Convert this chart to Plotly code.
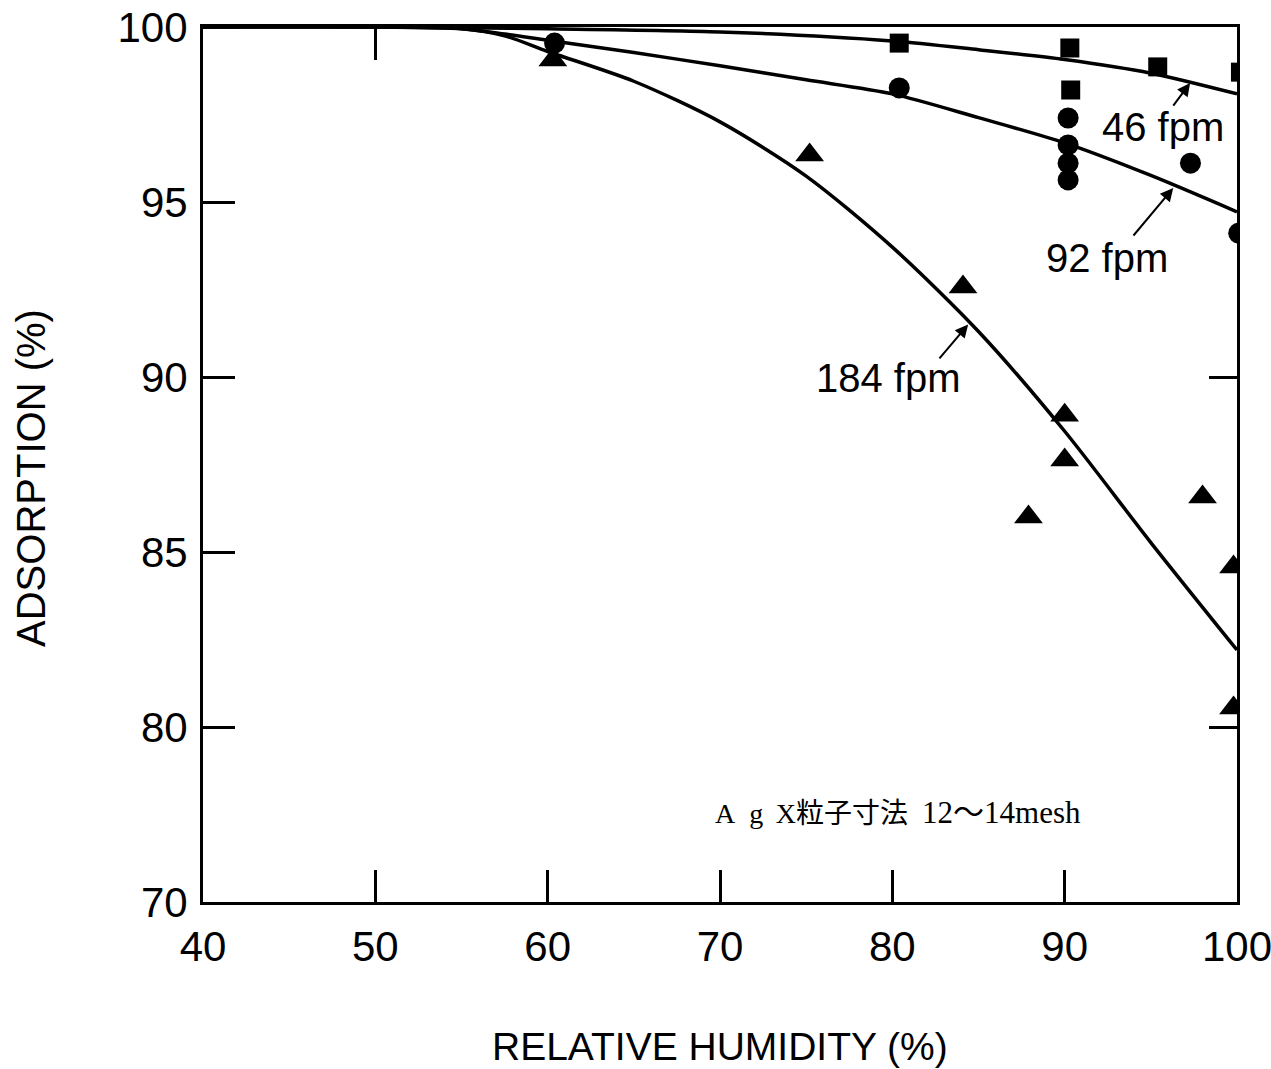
import plotly.graph_objects as go

# ---------------- data ----------------
# fitted curves (relative humidity %, adsorption %)
curve_46_x = [40, 50, 55, 60, 70, 80, 85, 90, 95, 100]
curve_46_y = [100, 100, 99.98, 99.95, 99.86, 99.6, 99.35, 99.07, 98.68, 98.09]

curve_92_x = [40, 50, 55, 57.5, 60, 65, 70, 75, 80, 85, 90, 95, 100]
curve_92_y = [100, 100, 99.95, 99.8, 99.62, 99.27, 98.89, 98.49, 98.09, 97.41, 96.69, 95.76, 94.72]

curve_184_x = [40, 50, 55, 57.5, 60, 65, 70, 75, 80, 85, 90, 95, 100]
curve_184_y = [100, 100, 99.95, 99.75, 99.3, 98.45, 97.29, 95.74, 93.71, 91.3, 88.45, 85.27, 82.2]

# measured points
sq_46_x = [80.4, 90.3, 90.35, 95.4, 100.2]
sq_46_y = [99.54, 99.4, 98.2, 98.86, 98.71]

ci_92_x = [60.4, 80.4, 90.2, 90.2, 90.2, 90.2, 97.3, 100.1]
ci_92_y = [99.54, 98.26, 97.4, 96.63, 96.11, 95.63, 96.11, 94.11]

tr_184_x = [60.3, 75.2, 84.1, 90.0, 90.0, 87.9, 98.0, 99.8, 99.8]
tr_184_y = [99.06, 96.34, 92.57, 88.91, 87.63, 86.0, 86.57, 84.57, 80.54]

x_ticks = [40, 50, 60, 70, 80, 90, 100]
y_ticks = [70, 80, 85, 90, 95, 100]
y_tick_text = ["70", "80", "85", "90", "95", "100"]

# label arrows: (head x, head y, tail x, tail y)
arrow_46 = (97.28, 98.40, 96.24, 97.71)
arrow_92 = (96.30, 95.40, 93.92, 94.00)
arrow_184 = (84.40, 91.50, 82.66, 90.49)


def tr(v):
    """broken ordinate: 70-80 compressed to half scale"""
    return v if v >= 80 else 80 - (80 - v) * 0.5


def trl(vals):
    return [tr(v) for v in vals]


FONT = "Liberation Sans, Arial, sans-serif"
BLACK = "#000000"

fig = go.Figure()

for cx, cy in [(curve_46_x, curve_46_y), (curve_92_x, curve_92_y), (curve_184_x, curve_184_y)]:
    fig.add_trace(go.Scatter(x=cx, y=trl(cy), mode="lines",
                             line=dict(color=BLACK, width=3.5, shape="spline", smoothing=0.8),
                             hoverinfo="skip", showlegend=False))

fig.add_trace(go.Scatter(x=sq_46_x, y=trl(sq_46_y), mode="markers",
                         marker=dict(symbol="square", size=19, color=BLACK), showlegend=False))
fig.add_trace(go.Scatter(x=ci_92_x, y=trl(ci_92_y), mode="markers",
                         marker=dict(symbol="circle", size=21, color=BLACK), showlegend=False))
fig.add_trace(go.Scatter(x=tr_184_x, y=trl(tr_184_y), mode="markers",
                         marker=dict(symbol="triangle-up", size=25, color=BLACK), showlegend=False))

# helper trace for mirrored tick axes
fig.add_trace(go.Scatter(x=[40, 100], y=[tr(70), 100], xaxis="x2", yaxis="y2", mode="none",
                         hoverinfo="skip", showlegend=False))

yrange = [tr(70), 100]

fig.update_layout(
    width=1271, height=1069,
    margin=dict(l=203, r=34, t=27, b=167, autoexpand=False),
    paper_bgcolor="white", plot_bgcolor="white",
    font=dict(family=FONT, color=BLACK),
    xaxis=dict(range=[40, 100], tickvals=x_ticks, ticks="inside", ticklen=32, tickwidth=3,
               tickcolor=BLACK, showline=True, linewidth=3, linecolor=BLACK, mirror=True,
               showgrid=False, zeroline=False, tickfont=dict(size=42, family=FONT),
               ticklabelstandoff=6, automargin=False, ticklabeloverflow="allow"),
    yaxis=dict(range=yrange, tickvals=trl(y_ticks), ticktext=y_tick_text, ticks="inside",
               ticklen=32, tickwidth=3, tickcolor=BLACK, showline=True, linewidth=3,
               linecolor=BLACK, mirror=True, showgrid=False, zeroline=False,
               tickfont=dict(size=42, family=FONT), ticklabelstandoff=4, automargin=False,
               ticklabeloverflow="allow"),
    xaxis2=dict(overlaying="x", side="top", range=[40, 100], tickvals=[50], ticks="inside",
                ticklen=33, tickwidth=3, tickcolor=BLACK, showticklabels=False,
                showline=False, showgrid=False, zeroline=False, automargin=False),
    yaxis2=dict(overlaying="y", side="right", anchor="x2", range=yrange, tickvals=[90, 80],
                ticks="inside", ticklen=28, tickwidth=3, tickcolor=BLACK,
                showticklabels=False, showline=False, showgrid=False, zeroline=False,
                automargin=False),
)

# axis titles
fig.add_annotation(text="RELATIVE HUMIDITY (%)", xref="paper", yref="paper", x=0.5, y=-0.165,
                   xanchor="center", yanchor="middle", showarrow=False,
                   font=dict(size=39, family=FONT))
fig.add_annotation(text="ADSORPTION (%)", xref="paper", yref="paper", x=-0.167, y=0.485,
                   xanchor="center", yanchor="middle", textangle=-90, showarrow=False,
                   font=dict(size=40, family=FONT))

# series labels
for txt, px, py in [("46 fpm", 0.928, 0.886), ("92 fpm", 0.874, 0.736), ("184 fpm", 0.663, 0.599)]:
    fig.add_annotation(text=txt, xref="paper", yref="paper", x=px, y=py, xanchor="center",
                       yanchor="middle", showarrow=False, font=dict(size=40, family=FONT))

for hx, hy, tx, ty in [arrow_46, arrow_92, arrow_184]:
    fig.add_annotation(text="", x=hx, y=tr(hy), ax=tx, ay=tr(ty), xref="x", yref="y",
                       axref="x", ayref="y", showarrow=True, arrowhead=2, arrowsize=1.3,
                       arrowwidth=2, arrowcolor=BLACK, standoff=0, startstandoff=0)

fig.add_annotation(text="A\u2002g\u00a0\u2009X粒子寸法\u2002<span style='font-size:31px'>12～14mesh</span>",
                   xref="paper", yref="paper",
                   x=(713 - 203) / 1034, y=(902 - 812) / 875, xanchor="left", yanchor="middle",
                   showarrow=False,
                   font=dict(size=28, family="Liberation Serif, Noto Sans CJK JP, serif"))

fig.write_html("out.html")
